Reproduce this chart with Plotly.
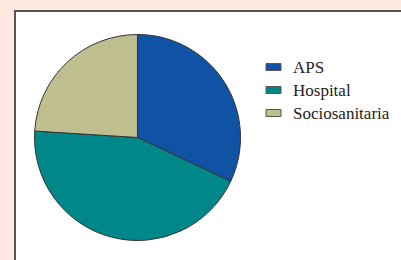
import plotly.graph_objects as go

labels = ["APS", "Hospital", "Sociosanitaria"]
values = [32, 44, 24]
colors = ["#1052A4", "#00878A", "#BFBE8F"]

W, H = 401, 260

def px(x):
    return x / W

def py(y):
    return 1 - y / H

fig = go.Figure()
fig.add_trace(go.Pie(
    labels=labels, values=values, sort=False, direction="clockwise", rotation=0,
    marker=dict(colors=colors, line=dict(color="#333333", width=1)),
    textinfo="none", hoverinfo="none", showlegend=False,
    domain=dict(x=[px(34.5), px(240.5)], y=[py(240.5), py(34.5)]),
))

shapes = [dict(type="rect", xref="paper", yref="paper", layer="below",
               x0=px(15), x1=px(430), y0=py(290), y1=py(11),
               fillcolor="white", line=dict(color="#555555", width=2))]
annotations = []
y0 = 67
step = 23
for i, (lab, col) in enumerate(zip(labels, colors)):
    yc = y0 + i * step
    shapes.append(dict(type="rect", xref="paper", yref="paper",
                       x0=px(266), x1=px(281), y0=py(yc + 3.5), y1=py(yc - 3.5),
                       fillcolor=col, line=dict(color="#555555", width=1)))
    annotations.append(dict(xref="paper", yref="paper", x=px(291), y=py(yc),
                            xanchor="left", yanchor="middle", showarrow=False,
                            text=lab, font=dict(family="Liberation Serif", size=17, color="#222222")))

fig.update_layout(width=W, height=H, margin=dict(l=0, r=0, t=0, b=0),
                  paper_bgcolor="#FCE8DE", plot_bgcolor="#FCE8DE",
                  shapes=shapes, annotations=annotations)
fig.write_html("out.html", config={"displayModeBar": False, "staticPlot": True},
               post_script="document.body.style.margin='0';document.body.style.background='#FCE8DE';")
